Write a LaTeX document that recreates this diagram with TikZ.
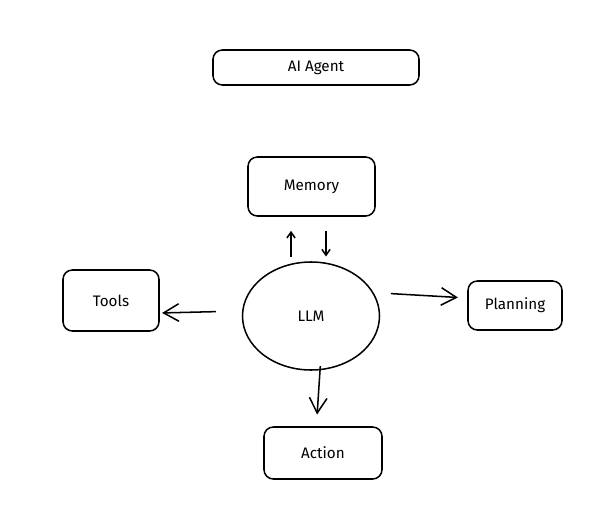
\documentclass[tikz,border=0pt]{standalone}
\usepackage{fontspec}
\setmainfont{Fira Sans}
\usetikzlibrary{shapes.geometric, arrows.meta, positioning}

\tikzset{
  sketchbox/.style={draw, line width=1.3pt, rounded corners=8pt, inner sep=0pt,
    font=\fontsize{13}{15}\selectfont},
  sketcharrow/.style={line width=1.3pt, -{Straight Barb[length=13pt, width=15pt, line width=1.3pt]}},
  smallarrow/.style={line width=1.3pt, -{Straight Barb[length=5pt, width=7pt, line width=1.3pt]}}
}

\begin{document}
\begin{tikzpicture}[x=0.03cm, y=-0.03cm]
  \useasboundingbox (0,0) rectangle (612,505);

  % Title
  \node[sketchbox, minimum width=6.18cm, minimum height=1.05cm] (agent) at (316,67.5) {AI Agent};

  % Core
  \node[draw, ellipse, line width=1.3pt, inner sep=0pt, minimum width=4.11cm, minimum height=3.24cm,
    font=\fontsize{13}{15}\selectfont] (llm) at (311,316) {LLM};

  % Surrounding boxes
  \node[sketchbox, minimum width=3.81cm, minimum height=1.77cm] (memory) at (311.5,186.5) {Memory};
  \node[sketchbox, minimum width=2.88cm, minimum height=1.83cm] (tools) at (111,300.5) {Tools};
  \node[sketchbox, minimum width=2.82cm, minimum height=1.47cm] (planning) at (515,305.5) {Planning};
  \node[sketchbox, minimum width=3.54cm, minimum height=1.56cm] (action) at (323,453) {Action};

  % Memory link
  \draw[smallarrow, shorten <=4pt, shorten >=12pt] ([xshift=-0.6cm]llm.north) -- ([xshift=-0.615cm]memory.south);
  \draw[smallarrow, shorten <=12pt, shorten >=4pt] ([xshift=0.435cm]memory.south) -- ([xshift=0.45cm]llm.north);

  % Other links
  \draw[sketcharrow, shorten <=22pt, shorten >=2pt] ([yshift=0.15cm]llm.west) -- ([yshift=-0.375cm]tools.east);
  \draw[sketcharrow, shorten <=9pt, shorten >=8pt] ([yshift=0.69cm]llm.east) -- ([yshift=0.225cm]planning.west);
  \draw[sketcharrow, shorten <=-4pt, shorten >=10pt] ([xshift=0.27cm]llm.south) -- ([xshift=-0.2cm]action.north);
\end{tikzpicture}
\end{document}
